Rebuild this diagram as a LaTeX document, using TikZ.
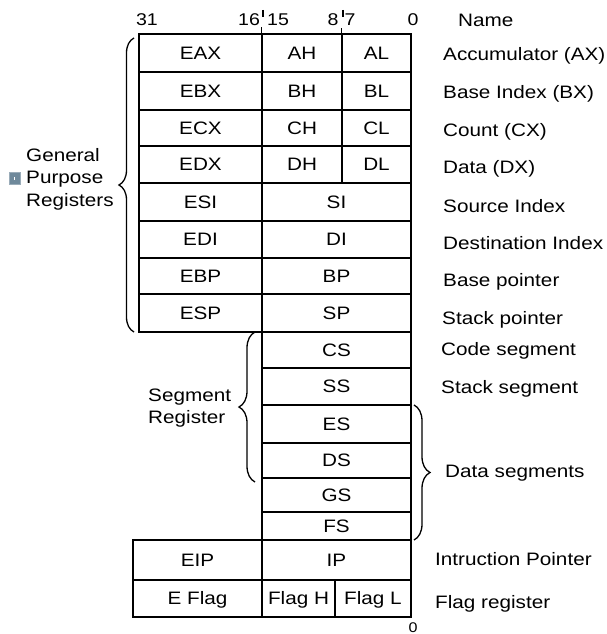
\documentclass[tikz,border=0pt]{standalone}
\usepackage{fontspec}
\setmainfont{Liberation Sans}[FakeStretch=1.15]
\usetikzlibrary{decorations.pathreplacing}
\definecolor{iconblue}{RGB}{111,137,155}
\newcommand\regcell[6]{\node[cellbox, minimum width={(#4-#2)*1pt}, minimum height={(#5-#3)*1pt}] (#1) at ({(#2+#4)/2},{(#3+#5)/2}) {#6};}
\begin{document}
\begin{tikzpicture}[x=1pt,y=-1pt, font=\fontsize{18}{21}\selectfont,
  cellbox/.style={draw, line width=1.6pt, rectangle, inner sep=0pt, text height=12.9pt, text depth=0pt},
  lbl/.style={anchor=west, inner sep=0pt, text height=12.9pt, text depth=0pt},
  hdr/.style={inner sep=0pt, text height=12pt, text depth=0pt, font=\fontsize{17}{20}\selectfont},
  bracestyle/.style={decorate, decoration={brace, amplitude=#1}, line width=1.3pt},
  tickline/.style={line width=1.3pt}]
\useasboundingbox (0,0) rectangle (607,634);

% General purpose rows
\regcell{eax}{139}{34}{262}{72}{EAX}
\regcell{ah}{262}{34}{342}{72}{AH}
\regcell{al}{342}{34}{411}{72}{AL}
\regcell{ebx}{139}{72}{262}{110}{EBX}
\regcell{bh}{262}{72}{342}{110}{BH}
\regcell{bl}{342}{72}{411}{110}{BL}
\regcell{ecx}{139}{110}{262}{146}{ECX}
\regcell{ch}{262}{110}{342}{146}{CH}
\regcell{cl}{342}{110}{411}{146}{CL}
\regcell{edx}{139}{146}{262}{183}{EDX}
\regcell{dh}{262}{146}{342}{183}{DH}
\regcell{dl}{342}{146}{411}{183}{DL}
\regcell{esi}{139}{183}{262}{221}{ESI}
\regcell{si}{262}{183}{411}{221}{SI}
\regcell{edi}{139}{221}{262}{258}{EDI}
\regcell{di}{262}{221}{411}{258}{DI}
\regcell{ebp}{139}{258}{262}{294}{EBP}
\regcell{bp}{262}{258}{411}{294}{BP}
\regcell{esp}{139}{294}{262}{332}{ESP}
\regcell{sp}{262}{294}{411}{332}{SP}
% Segment rows
\regcell{cs}{262}{332}{411}{368}{CS}
\regcell{ss}{262}{368}{411}{405}{SS}
\regcell{es}{262}{405}{411}{443}{ES}
\regcell{ds}{262}{443}{411}{478}{DS}
\regcell{gs}{262}{478}{411}{512}{GS}
\regcell{fs}{262}{512}{411}{540}{FS}
% Instruction pointer and flags
\regcell{eip}{133}{540}{262}{580}{EIP}
\regcell{ip}{262}{540}{411}{580}{IP}
\regcell{eflag}{133}{580}{262}{617}{E Flag}
\regcell{flagh}{262}{580}{335}{617}{Flag H}
\regcell{flagl}{335}{580}{411}{617}{Flag L}

% Header
\node[hdr] (h31) at (147,20) {31};
\node[hdr] (h16) at (249,20) {16};
\node[hdr] (h15) at (278,20) {15};
\node[hdr] (h8) at (333,20) {8};
\node[hdr] (h7) at (350,20) {7};
\node[hdr] (h0) at (413,20) {0};
\node[lbl] (name) at (458,20) {Name};
\coordinate (t1a) at (263,10); \coordinate (t1b) at (263,17);
\coordinate (t2a) at (343,10); \coordinate (t2b) at (343,17);
\draw[tickline] (t1a) -- (t1b);
\draw[tickline] (t2a) -- (t2b);
\draw[tickline] (ah.north west) -- ++(0,-6);
\draw[tickline] (al.north west) -- ++(0,-5);
\node[hdr, font=\fontsize{14}{16}\selectfont, text height=10pt] (b0) at (413,627) {0};

% Right labels
\node[lbl] (nax) at (443,54) {Accumulator (AX)};
\node[lbl] (nbx) at (443,92) {Base Index (BX)};
\node[lbl] (ncx) at (443,130) {Count (CX)};
\node[lbl] (ndx) at (443,167) {Data (DX)};
\node[lbl] (nsi) at (443,206) {Source Index};
\node[lbl] (ndi) at (443,243) {Destination Index};
\node[lbl] (nbp) at (443,280) {Base pointer};
\node[lbl] (nsp) at (442,318) {Stack pointer};
\node[lbl] (ncs) at (441,349) {Code segment};
\node[lbl] (nss) at (441,387) {Stack segment};
\node[lbl] (nds) at (445,471) {Data segments};
\node[lbl] (nip) at (435,559) {Intruction Pointer};
\node[lbl] (nfl) at (435,602) {Flag register};

% Left labels
\node[lbl] (gp1) at (26,155) {General};
\node[lbl] (gp2) at (26,177.5) {Purpose};
\node[lbl] (gp3) at (26,200) {Registers};
\node[draw=iconblue!70, fill=iconblue, minimum width=11pt, minimum height=12pt, inner sep=0pt] (icon) at (14.5,178.5) {};
\node[fill=white, minimum width=1pt, minimum height=3pt, inner sep=0pt] (icondot) at (icon.center) {};
\node[lbl] (sr1) at (148,395) {Segment};
\node[lbl] (sr2) at (148,417) {Register};

% Braces
\coordinate (gpb) at (134,332); \coordinate (gpt) at (134,38);
\draw[bracestyle=15pt] (gpb) -- (gpt);
\coordinate (sgb) at (255,482); \coordinate (sgt) at (255,332);
\draw[bracestyle=16pt] (sgb) -- (sgt);
\coordinate (dst) at (414,405); \coordinate (dsb) at (414,540);
\draw[bracestyle=16pt] (dst) -- (dsb);
\end{tikzpicture}
\end{document}
